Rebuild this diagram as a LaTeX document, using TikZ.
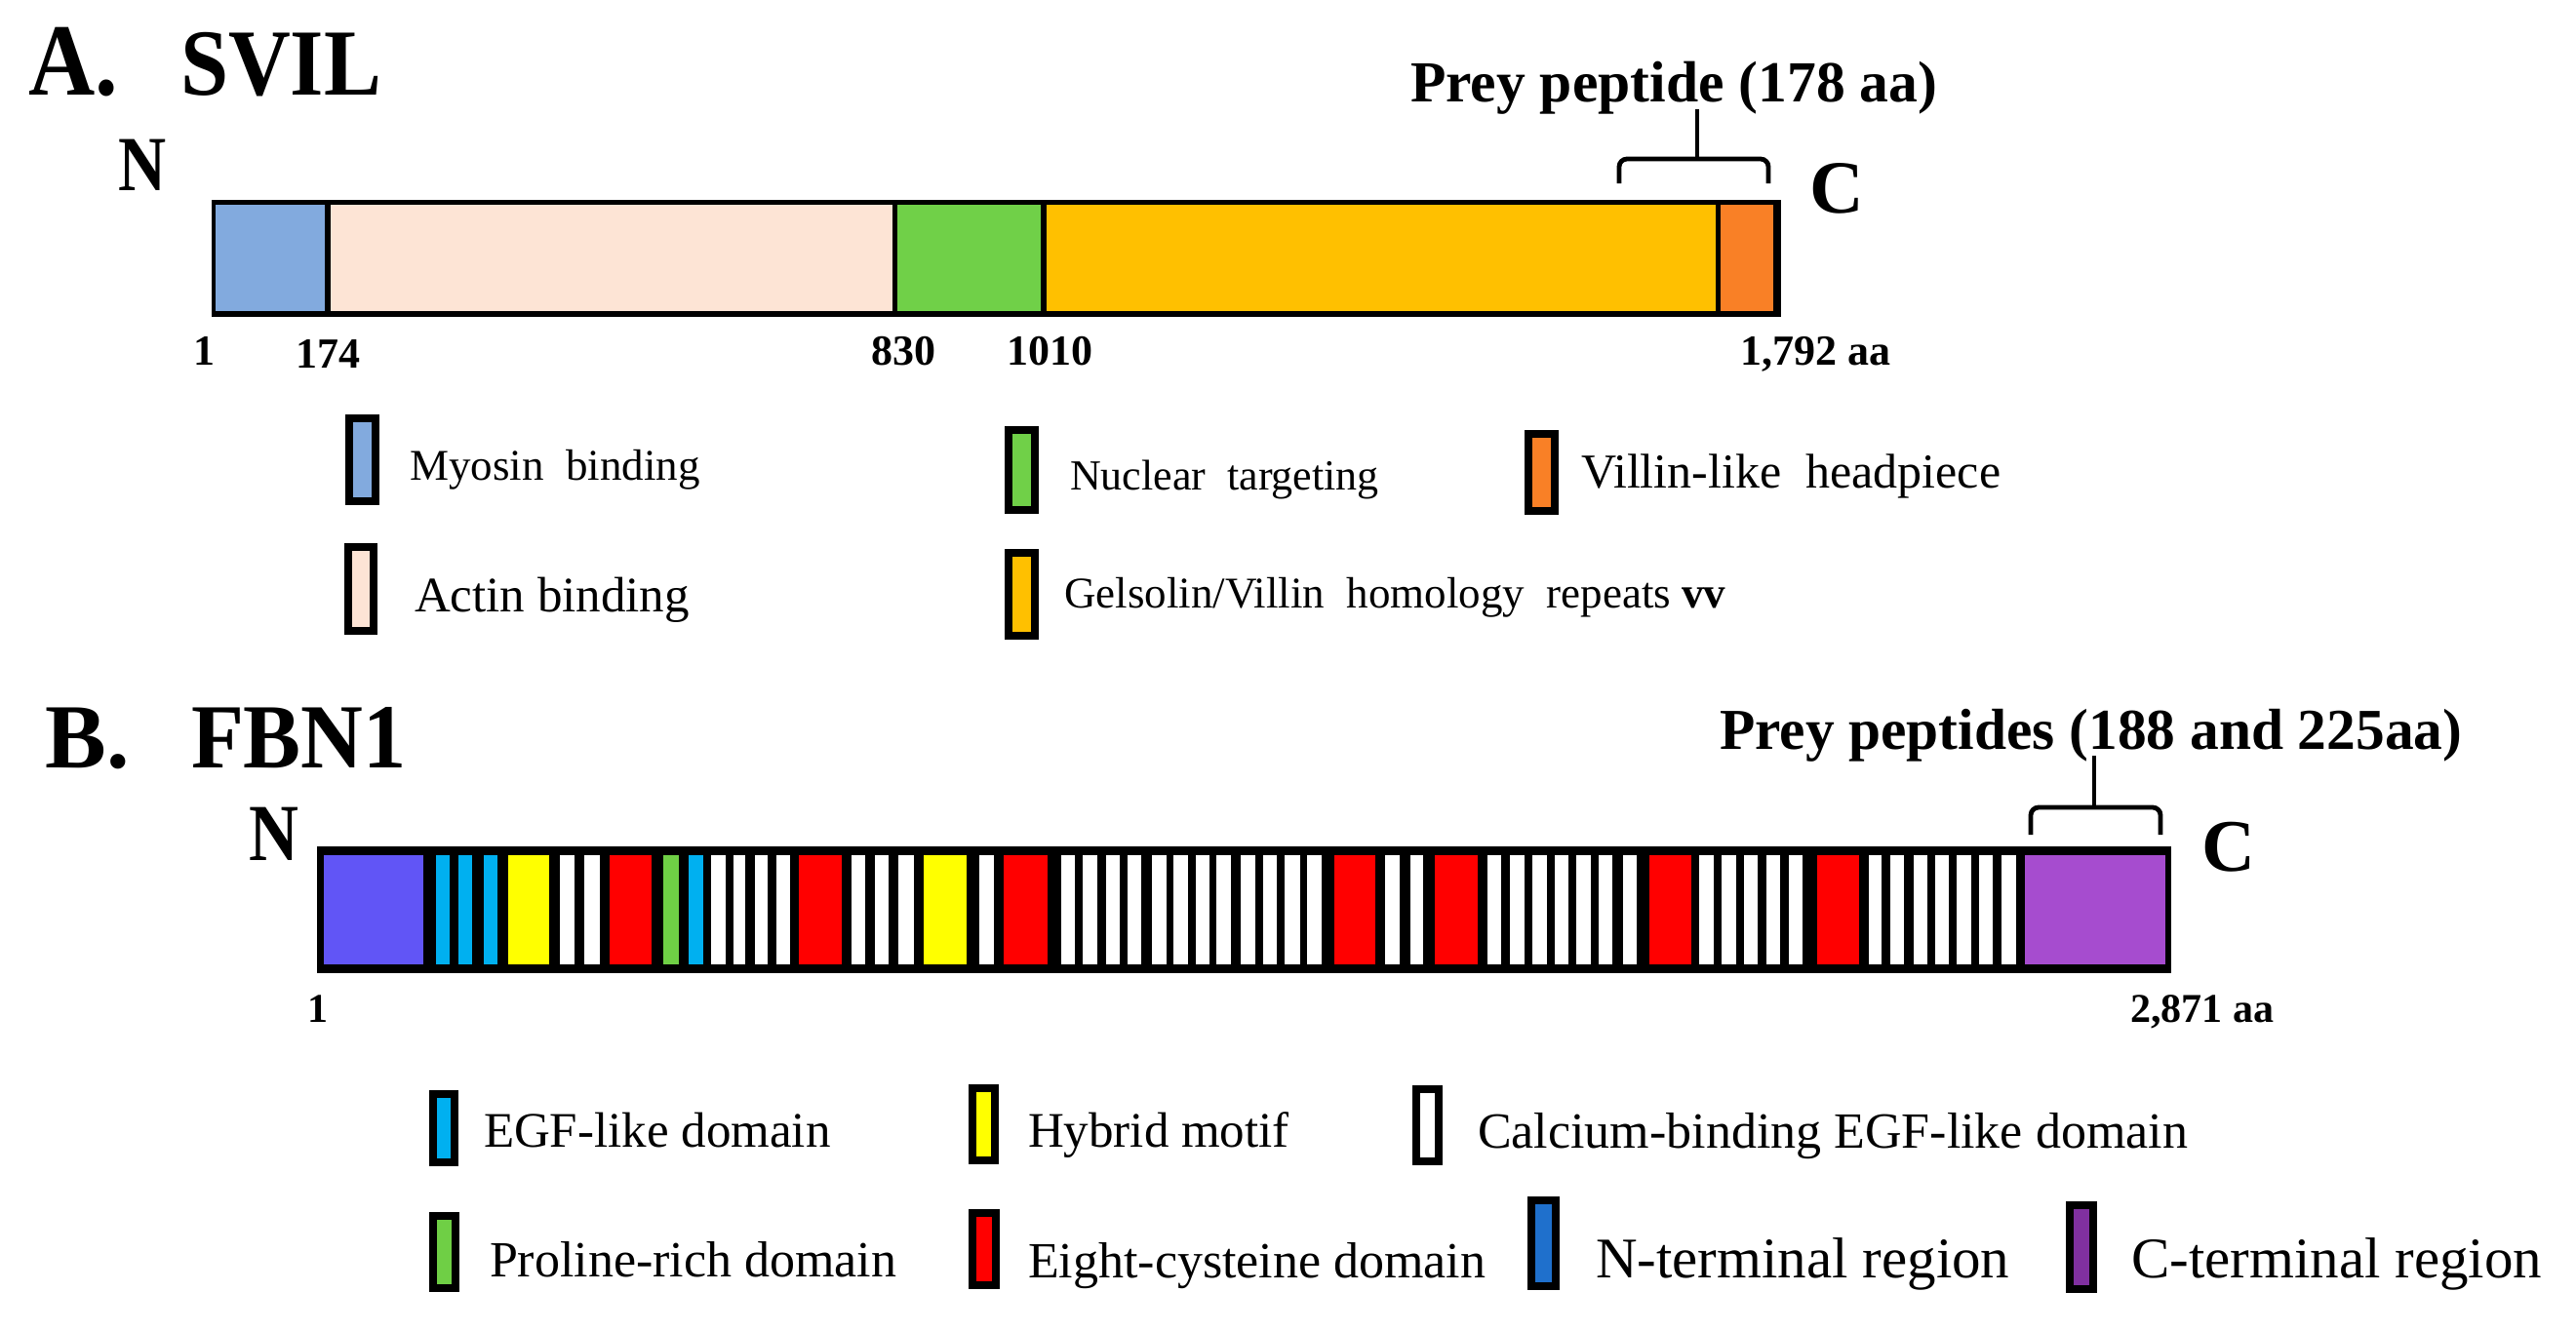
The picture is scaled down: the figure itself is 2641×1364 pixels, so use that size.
\documentclass[tikz,border=0pt]{standalone}
\usepackage{fontspec}
\setmainfont{Liberation Serif}
\usepackage{graphicx}
\newcommand\fsz[1]{\fontsize{#1}{#1}\selectfont}
\definecolor{myo}{HTML}{82AADE}
\definecolor{act}{HTML}{FDE4D5}
\definecolor{nuc}{HTML}{70D048}
\definecolor{gel}{HTML}{FFC000}
\definecolor{vil}{HTML}{F98026}
\definecolor{fbnN}{HTML}{6155F6}
\definecolor{egf}{HTML}{00B0F0}
\definecolor{hyb}{HTML}{FFFF00}
\definecolor{cys}{HTML}{FF0000}
\definecolor{pro}{HTML}{6FCF45}
\definecolor{fbnC}{HTML}{A64CCF}
\definecolor{legN}{HTML}{1F70CC}
\definecolor{legC}{HTML}{8030A0}
\begin{document}
\begin{tikzpicture}[x=0.25pt,y=-0.25pt,
  lbl/.style={anchor=base west, inner sep=0pt, outer sep=0pt},
  lbox/.style={draw=black, line width=2pt},
  brk/.style={line width=1.2pt, rounded corners=2pt}]
\useasboundingbox (0,0) rectangle (2641,1364);
\fill[white] (0,0) rectangle (2641,1364);

% ---------------- A. SVIL ----------------
\node[lbl, font=\bfseries\fsz{26.25}] (tA) at (29,97) {\scalebox{0.9}[1]{A.}};
\node[lbl, font=\bfseries\fsz{24.25}] (tSVIL) at (185,97) {\scalebox{0.91}[1]{SVIL}};
\node[lbl, font=\bfseries\fsz{20}] (NA) at (121,195) {\scalebox{0.85}[1]{N}};
\node[lbl, font=\bfseries\fsz{19.25}] (CA) at (1855,218) {C};

% bar
\fill[black] (217,205) rectangle (1826,325);
\fill[myo] (221,210) rectangle (333,319);
\fill[act] (339,210) rectangle (915,319);
\fill[nuc] (920,210) rectangle (1067,319);
\fill[gel] (1073,210) rectangle (1759,319);
\fill[vil] (1764,210) rectangle (1818,319);

% numbers
\node[lbl, font=\bfseries\fsz{11}] (a1) at (198,374) {1};
\node[lbl, font=\bfseries\fsz{11}] (a174) at (303,377) {174};
\node[lbl, font=\bfseries\fsz{11}] (a830) at (893,374) {830};
\node[lbl, font=\bfseries\fsz{11}] (a1010) at (1032,374) {1010};
\node[lbl, font=\bfseries\fsz{11}] (aend) at (1784,374) {1,792 aa};

% prey
\node[lbl, font=\bfseries\fsz{14.9}] (preyA) at (1446,104) {Prey peptide (178 aa)};
\coordinate (bAL) at (1660,188);
\coordinate (bAR) at (1813,188);
\coordinate (bAM) at (1740,163);
\draw[brk] (bAL) -- (1660,163) -- (1813,163) -- (bAR);
\draw[line width=1.2pt] (bAM) -- (1740,112);

% legend A
\draw[lbox, fill=myo] (358,429) rectangle (385,514);
\node[lbl, font=\fsz{11.25}] (lmyo) at (420,492) {Myosin\ \ binding};
\draw[lbox, fill=act] (357,561) rectangle (383,647);
\node[lbl, font=\fsz{12.75}] (lact) at (425,627) {Actin binding};
\draw[lbox, fill=nuc] (1034,441) rectangle (1061,523);
\node[lbl, font=\fsz{11}] (lnuc) at (1097,502) {Nuclear\ \ targeting};
\draw[lbox, fill=vil] (1567,445) rectangle (1594,524);
\node[lbl, font=\fsz{12.5}] (lvil) at (1621,500) {Villin-like\ \ headpiece};
\draw[lbox, fill=gel] (1034,567) rectangle (1061,652);
\node[lbl, font=\fsz{11.25}] (lgel) at (1091,623) {Gelsolin/Villin\ \ homology\ \ repeats\ \textbf{vv}};

% ---------------- B. FBN1 ----------------
\node[lbl, font=\bfseries\fsz{23.5}] (tB) at (47,787) {B.};
\node[lbl, font=\bfseries\fsz{23.5}] (tFBN) at (196,787) {\scalebox{0.94}[1]{FBN1}};
\node[lbl, font=\bfseries\fsz{20.75}] (NB) at (255,882) {\scalebox{0.85}[1]{N}};
\node[lbl, font=\bfseries\fsz{19}] (CB) at (2257,893) {C};

\fill[black] (325,868) rectangle (2226,998);
\foreach \a/\b/\c in {332/434/fbnN,
  447/461/egf, 470/484/egf, 496/510/egf,
  521/563/hyb,
  574/589/white, 599/615/white,
  625/668/cys,
  680/696/pro,
  706/721/egf,
  729/744/white, 752/764/white, 774/787/white, 796/810/white,
  819/863/cys,
  873/887/white, 897/911/white, 921/937/white,
  947/991/hyb,
  1004/1019/white,
  1029/1074/cys,
  1088/1102/white, 1110/1125/white, 1134/1148/white, 1156/1170/white,
  1181/1196/white, 1203/1218/white, 1226/1240/white, 1247/1262/white,
  1272/1287/white, 1295/1309/white, 1317/1333/white, 1340/1355/white,
  1368/1410/cys,
  1420/1435/white, 1446/1459/white,
  1471/1515/cys,
  1525/1539/white, 1548/1563/white, 1571/1586/white, 1594/1608/white,
  1616/1631/white, 1639/1653/white, 1664/1678/white,
  1691/1734/cys,
  1742/1757/white, 1765/1780/white, 1788/1802/white, 1811/1825/white, 1834/1848/white,
  1863/1906/cys,
  1916/1929/white, 1938/1952/white, 1962/1976/white, 1984/1998/white,
  2006/2021/white, 2029/2043/white, 2052/2067/white,
  2076/2220/fbnC}
  \fill[\c] (\a,877) rectangle (\b,989);

\node[lbl, font=\bfseries\fsz{10.5}] (b1) at (315,1048) {1};
\node[lbl, font=\bfseries\fsz{10.5}] (bend) at (2184,1048) {2,871 aa};

\node[lbl, font=\bfseries\fsz{14.85}] (preyB) at (1763,768) {Prey peptides (188 and 225aa)};
\coordinate (bBL) at (2082,856);
\coordinate (bBR) at (2215,856);
\coordinate (bBM) at (2147,828);
\draw[brk] (bBL) -- (2082,828) -- (2215,828) -- (bBR);
\draw[line width=1.2pt] (bBM) -- (2147,775);

% legend B
\draw[lbox, fill=egf] (444,1122) rectangle (466,1192);
\node[lbl, font=\fsz{12.75}] (legf) at (496,1176) {EGF-like domain};
\draw[lbox, fill=hyb] (997,1116) rectangle (1020,1190);
\node[lbl, font=\fsz{12.75}] (lhyb) at (1054,1176) {Hybrid motif};
\draw[lbox, fill=white] (1452,1117) rectangle (1475,1191);
\node[lbl, font=\fsz{13}] (lcal) at (1515,1177) {Calcium-binding EGF-like domain};
\draw[lbox, fill=pro] (444,1247) rectangle (467,1321);
\node[lbl, font=\fsz{13}] (lpro) at (502,1309) {Proline-rich domain};
\draw[lbox, fill=cys] (997,1244) rectangle (1021,1318);
\node[lbl, font=\fsz{13}] (lcys) at (1054,1310) {Eight-cysteine domain};
\draw[lbox, fill=legN] (1570,1231) rectangle (1595,1319);
\node[lbl, font=\fsz{14.75}] (lN) at (1636,1310) {N-terminal region};
\draw[lbox, fill=legC] (2122,1236) rectangle (2146,1322);
\node[lbl, font=\fsz{14.75}] (lC) at (2185,1310) {C-terminal region};
\end{tikzpicture}
\end{document}
